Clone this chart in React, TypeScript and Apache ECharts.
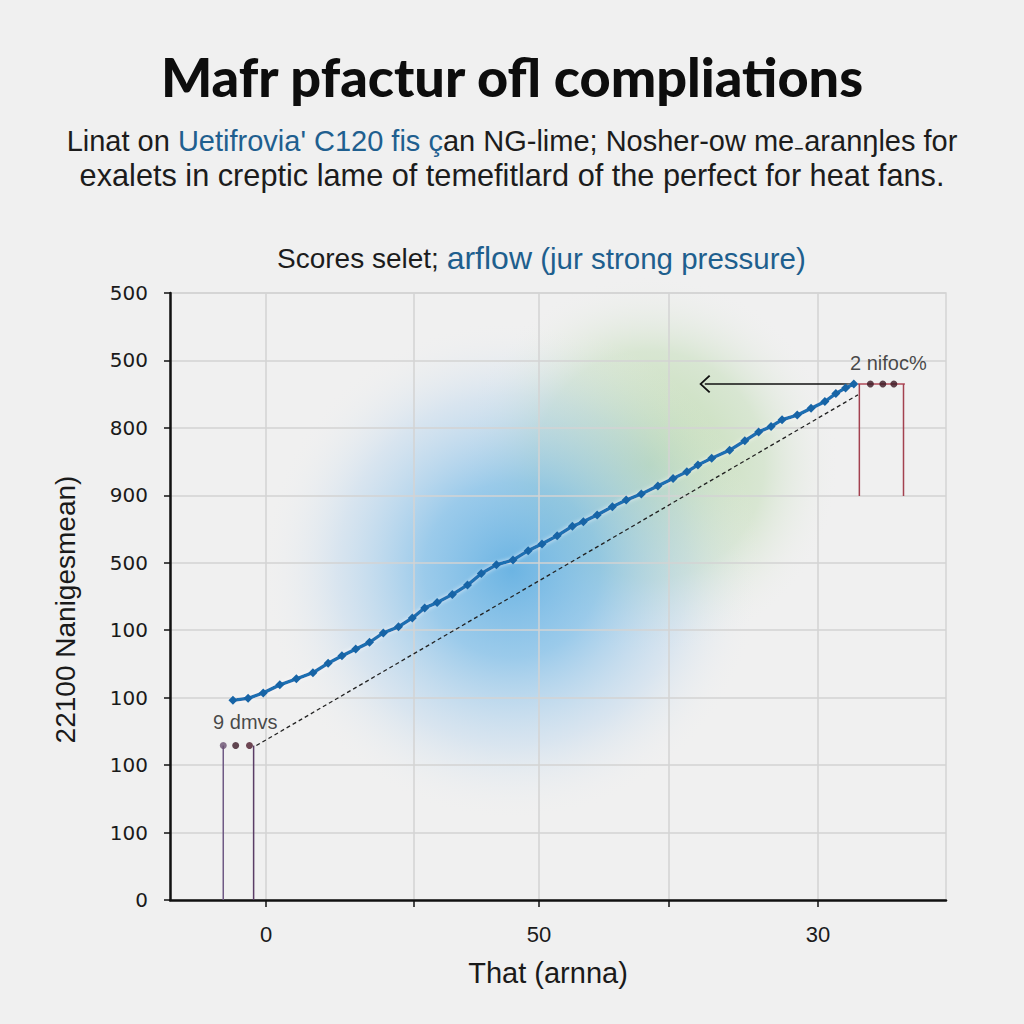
import React, { useEffect, useRef } from "react";
import * as echarts from "echarts";

// ---- texts ----
const titleText = "Mafr pfactur ofl compliations";
const subLine1a = "Linat on ";
const subLine1b = "Uetifrovia' C120 fis ç";
const subLine1c = "an NG-lime; Nosher-ow me₋aranŋles for";
const subLine2 = "exalets in creptic lame of temefitlard of the perfect for heat fans.";
const chartSubA = "Scores selet; ";
const chartSubB = "arflow";
const chartSubC = " (jur strong pressure)";
const yName = "22100 Nanigesmean)";
const xName = "That (arnna)";

// ---- axes ----
const yTickLabels = ["0", "100", "100", "100", "100", "500", "900", "800", "500", "500"];
const xMin = -0.696;
const xMax = 4.928;
const xTickPos = [0, 1.072, 1.978, 2.92, 4.0];
const xLabelPos = [0, 1.978, 4.0];
const xTickLabels = ["0", "50", "30"];

// ---- main series ----
const blueX = [-0.24, -0.13, -0.02, 0.1, 0.22, 0.34, 0.45, 0.55, 0.65, 0.75, 0.85, 0.96, 1.06, 1.15, 1.24, 1.35, 1.46, 1.56, 1.67, 1.79, 1.9, 2.0, 2.11, 2.22, 2.3, 2.4, 2.51, 2.61, 2.72, 2.84, 2.95, 3.05, 3.13, 3.23, 3.36, 3.47, 3.57, 3.66, 3.74, 3.85, 3.95, 4.05, 4.13, 4.2, 4.26];
const blueY = [2.96, 2.99, 3.07, 3.19, 3.28, 3.37, 3.51, 3.62, 3.72, 3.82, 3.96, 4.05, 4.18, 4.33, 4.41, 4.53, 4.67, 4.84, 4.97, 5.04, 5.18, 5.28, 5.4, 5.54, 5.61, 5.71, 5.83, 5.93, 6.02, 6.14, 6.25, 6.35, 6.45, 6.55, 6.67, 6.81, 6.94, 7.02, 7.12, 7.19, 7.29, 7.39, 7.51, 7.59, 7.65];

// reference (dashed) line
const dashedX = [-0.07, 4.29];
const dashedY = [2.29, 7.49];

// left annotation
const leftDotsX = [-0.31, -0.22, -0.12];
const leftDotY = 2.29;
const leftStemX = [-0.31, -0.09];

// right annotation
const rightY = 7.65;
const rightLineX = [4.29, 4.63];
const rightDotsX = [4.38, 4.47, 4.55];
const rightStemX = [4.3, 4.62];
const rightStemBottom = 5.99;
const arrowFromX = 4.24;
const arrowToX = 3.18;

// notes
const noteNames = ["9 dmvs", "2 nifoc%"];
const noteX = [-0.15, 4.51];
const noteY = [2.64, 7.96];

function nearestLabel(v: number, pos: number[], labels: string[]) {
  let best = 0;
  for (let i = 1; i < pos.length; i++) {
    if (Math.abs(pos[i] - v) < Math.abs(pos[best] - v)) best = i;
  }
  return labels[best];
}

export default function App() {
  const ref = useRef<HTMLDivElement>(null);

  useEffect(() => {
    document.body.style.margin = "0";
    const chart = echarts.init(ref.current!, undefined, { renderer: "svg" });
    const font = "Liberation Sans";
    const gridColor = "#d3d3d3";

    const option: any = {
      animation: false,
      backgroundColor: "#f0f0f0",
      title: [
        {
          text: titleText,
          left: "center",
          top: 44,
          textStyle: { fontFamily: "Lato", fontWeight: 900, fontSize: 54, color: "#0d0d0d" },
        },
        {
          text: `${subLine1a}{b|${subLine1b}}${subLine1c}\n{l|${subLine2}}`,
          left: "center",
          top: 118,
          textStyle: {
            fontFamily: font,
            fontWeight: "normal",
            fontSize: 29,
            lineHeight: 35,
            color: "#1c1c1c",
            rich: {
              b: { color: "#1f5f8f", fontFamily: font, fontSize: 29, lineHeight: 35 },
              l: { color: "#1c1c1c", fontFamily: font, fontSize: 30.7, lineHeight: 35 },
            },
          },
        },
        {
          text: `${chartSubA}{a|${chartSubB}}{c|${chartSubC}}`,
          left: 272,
          top: 236,
          textStyle: {
            fontFamily: font,
            fontWeight: "normal",
            fontSize: 28,
            lineHeight: 34,
            color: "#1c1c1c",
            rich: {
              a: { color: "#1e5f8e", fontFamily: font, fontSize: 32, lineHeight: 34 },
              c: { color: "#1e5f8e", fontFamily: font, fontSize: 29.5, lineHeight: 34 },
            },
          },
        },
      ],
      graphic: [
        {
          type: "circle",
          z: -10,
          silent: true,
          shape: { cx: 650, cy: 465, r: 190 },
          style: {
            fill: {
              type: "radial", x: 0.5, y: 0.5, r: 0.5,
              colorStops: [
                { offset: 0, color: "rgba(175,212,155,0.8)" },
                { offset: 0.6, color: "rgba(192,220,180,0.5)" },
                { offset: 1, color: "rgba(240,240,240,0)" },
              ],
            },
          },
        },
        {
          type: "circle",
          z: -9,
          silent: true,
          shape: { cx: 512, cy: 570, r: 250 },
          style: {
            fill: {
              type: "radial", x: 0.5, y: 0.5, r: 0.5,
              colorStops: [
                { offset: 0, color: "rgba(90,172,225,0.88)" },
                { offset: 0.35, color: "rgba(115,185,232,0.68)" },
                { offset: 0.7, color: "rgba(178,210,238,0.38)" },
                { offset: 1, color: "rgba(240,240,240,0)" },
              ],
            },
          },
        },
      ],
      grid: {
        left: 170,
        right: 78,
        top: 293,
        bottom: 124,
        show: true,
        backgroundColor: "transparent",
        borderColor: gridColor,
        borderWidth: 1.5,
      },
      xAxis: {
        type: "value",
        min: xMin,
        max: xMax,
        axisLine: { show: true, onZero: false, lineStyle: { color: "#111111", width: 2.5 } },
        axisTick: { show: true, customValues: xTickPos, length: 7, lineStyle: { color: "#111111", width: 1.5 } },
        axisLabel: {
          customValues: xLabelPos,
          formatter: (v: number) => nearestLabel(v, xLabelPos, xTickLabels),
          margin: 23,
          fontSize: 22,
          fontFamily: font,
          color: "#1a1a1a",
        },
        splitLine: { show: true, lineStyle: { color: gridColor, width: 1.5 } },
        name: xName,
        nameLocation: "middle",
        nameGap: 58,
        nameTextStyle: { fontSize: 29, fontFamily: font, color: "#1a1a1a", padding: [0, 20, 0, 0] },
      },
      yAxis: {
        type: "value",
        min: 0,
        max: 9,
        interval: 1,
        axisLine: { show: true, onZero: false, lineStyle: { color: "#111111", width: 2.5 } },
        axisTick: { show: true, length: 6, lineStyle: { color: "#111111", width: 1.5 } },
        axisLabel: {
          formatter: (v: number) => yTickLabels[Math.round(v)],
          margin: 22,
          fontSize: 20,
          fontFamily: "DejaVu Sans",
          color: "#1a1a1a",
        },
        splitLine: { show: true, lineStyle: { color: gridColor, width: 1.5 } },
        name: yName,
        nameLocation: "middle",
        nameGap: 91,
        nameRotate: 90,
        nameTextStyle: { fontSize: 28, fontFamily: font, color: "#1a1a1a", padding: [0, 26, 0, 0] },
      },
      series: [
        {
          type: "line",
          name: "dashed",
          data: dashedX.map((x, i) => [x, dashedY[i]]),
          symbol: "none",
          lineStyle: { color: "#222222", width: 1.3, type: [4, 3] },
          z: 4,
          silent: true,
        },
        {
          type: "line",
          name: "main",
          data: blueX.map((x, i) => [x, blueY[i]]),
          symbol: "diamond",
          symbolSize: 9,
          lineStyle: {
            color: "#1f6fb2",
            width: 3.5,
            shadowColor: "rgba(255,255,255,0.7)",
            shadowBlur: 4,
          },
          itemStyle: { color: "#1764a6" },
          z: 5,
        },
        {
          type: "line",
          name: "leftStemA",
          data: [[leftStemX[0], 0], [leftStemX[0], leftDotY]],
          symbol: "none",
          lineStyle: { color: "#6f5a85", width: 1.5 },
          z: 3,
        },
        {
          type: "line",
          name: "leftStemB",
          data: [[leftStemX[1], 0], [leftStemX[1], leftDotY]],
          symbol: "none",
          lineStyle: { color: "#5a3d66", width: 1.5 },
          z: 3,
        },
        {
          type: "scatter",
          name: "leftDots",
          data: leftDotsX.map((x, i) => ({
            value: [x, leftDotY],
            itemStyle: { color: ["#6a5070", "#3c1a28", "#4c1c2c"][i] },
          })),
          symbolSize: 7,
          z: 6,
        },
        {
          type: "line",
          name: "rightLine",
          data: rightLineX.map((x) => [x, rightY]),
          symbol: "none",
          lineStyle: { color: "#b04a58", width: 1.5 },
          z: 3,
          markLine: {
            silent: true,
            symbol: ["none", "path://M0,12 L12,0 L24,12 L22.4,13.6 L12,3.2 L1.6,13.6 Z"],
            symbolSize: [18, 11],
            label: { show: false },
            lineStyle: { color: "#111111", width: 1.5, type: "solid" },
            data: [[{ coord: [arrowFromX, rightY] }, { coord: [arrowToX, rightY] }]],
          },
        },
        {
          type: "line",
          name: "rightStemA",
          data: [[rightStemX[0], rightY], [rightStemX[0], rightStemBottom]],
          symbol: "none",
          lineStyle: { color: "#a3414f", width: 1.5 },
          z: 3,
        },
        {
          type: "line",
          name: "rightStemB",
          data: [[rightStemX[1], rightY], [rightStemX[1], rightStemBottom]],
          symbol: "none",
          lineStyle: { color: "#a3414f", width: 1.5 },
          z: 3,
        },
        {
          type: "scatter",
          name: "rightDots",
          data: rightDotsX.map((x) => [x, rightY]),
          symbolSize: 7,
          itemStyle: { color: "#3a1622" },
          z: 6,
        },
        {
          type: "scatter",
          name: "notes",
          data: noteNames.map((n, i) => ({ name: n, value: [noteX[i], noteY[i]] })),
          symbolSize: 0,
          silent: true,
          label: {
            show: true,
            position: "inside",
            formatter: (p: any) => p.name,
            fontFamily: font,
            fontSize: 20,
            color: "#1a1a1a",
          },
          z: 7,
        },
      ],
    };

    chart.setOption(option);
    return () => chart.dispose();
  }, []);

  return (
    <div
      ref={ref}
      style={{ width: 1024, height: 1024, position: "fixed", left: 0, top: 0 }}
    />
  );
}
